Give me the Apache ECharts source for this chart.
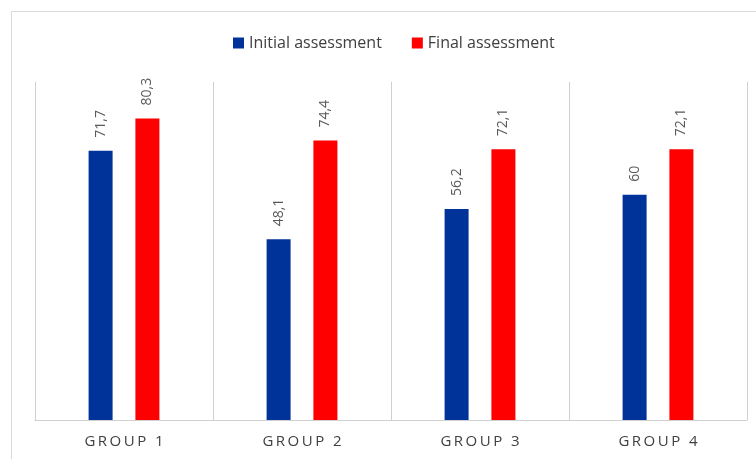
<!DOCTYPE html>
<html>
<head>
<meta charset="utf-8">
<script src="https://cdn.jsdelivr.net/npm/echarts@6/dist/echarts.min.js"></script>
<style>
  html, body { margin: 0; padding: 0; background: #fff; }
  #chart { width: 756px; height: 459px; }
</style>
</head>
<body>
<div id="chart"></div>
<script>
// chart data
const groups = ["GROUP 1", "GROUP 2", "GROUP 3", "GROUP 4"];
const initialValues = [71.7, 48.1, 56.2, 60];
const finalValues = [80.3, 74.4, 72.1, 72.1];
const seriesNames = ["Initial assessment", "Final assessment"];

const FONT = "'Open Sans', sans-serif";
const chart = echarts.init(document.getElementById("chart"));

// labels use a decimal comma
const valueLabel = {
  show: true,
  position: "top",
  rotate: 90,
  distance: 13,
  align: "left",
  verticalAlign: "middle",
  color: "#595959",
  fontFamily: FONT,
  fontSize: 14,
  formatter: p => String(p.value).replace(".", ",")
};

chart.setOption({
  animation: false,
  graphic: [{
    // outer frame (left + top edges)
    type: "polyline",
    shape: { points: [[11.5, 470], [11.5, 11.5], [770, 11.5]] },
    style: { stroke: "#d9d9d9", lineWidth: 1, fill: null }
  }],
  legend: {
    top: 30,
    left: 228,
    itemWidth: 11,
    itemHeight: 11,
    itemGap: 30,
    icon: "rect",
    textStyle: { color: "#404040", fontFamily: FONT, fontSize: 16 },
    data: seriesNames
  },
  grid: { left: 35, right: 9, top: 82, bottom: 39 },
  xAxis: {
    type: "category",
    data: groups,
    axisTick: { show: false },
    axisLine: { lineStyle: { color: "#d0d0d0" } },
    splitLine: { show: true, interval: 0, lineStyle: { color: "#d0d0d0" } },
    axisLabel: {
      margin: 14,
      color: "#404040",
      fontFamily: FONT,
      fontSize: 15,
      formatter: v => v.split("").join("\u2009")
    }
  },
  yAxis: {
    type: "value",
    min: 0,
    max: 90,
    show: false,
    splitLine: { show: false }
  },
  series: [
    {
      name: seriesNames[0],
      type: "bar",
      data: initialValues,
      barWidth: 24,
      barGap: "95%",
      itemStyle: { color: "#003399" },
      label: valueLabel
    },
    {
      name: seriesNames[1],
      type: "bar",
      data: finalValues,
      barWidth: 24,
      itemStyle: { color: "#ff0000" },
      label: valueLabel
    }
  ]
});
</script>
</body>
</html>
